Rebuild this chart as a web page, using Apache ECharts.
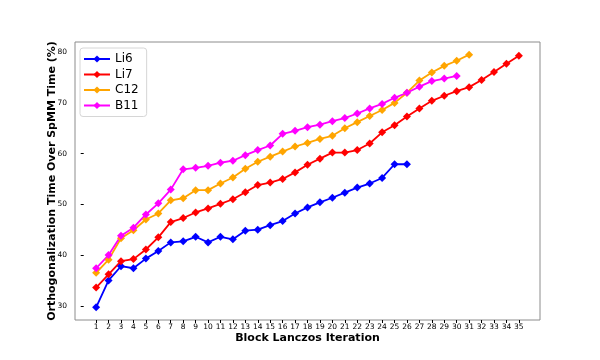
<!DOCTYPE html>
<html>
<head>
<meta charset="utf-8">
<script src="https://cdn.jsdelivr.net/npm/echarts@6/dist/echarts.min.js"></script>
<style>
html,body{margin:0;padding:0;background:#fff;}
#chart{width:600px;height:360px;}
</style>
</head>
<body>
<div id="chart"></div>
<script>
const iterations = [1,2,3,4,5,6,7,8,9,10,11,12,13,14,15,16,17,18,19,20,21,22,23,24,25,26,27,28,29,30,31,32,33,34,35];
const yTicks = [30,40,50,60,70,80];
const li6 = [29.7,35.0,37.8,37.4,39.3,40.8,42.5,42.7,43.6,42.5,43.6,43.1,44.8,45.0,45.9,46.7,48.2,49.4,50.4,51.3,52.3,53.3,54.1,55.2,57.9,57.9];
const li7 = [33.6,36.2,38.8,39.2,41.1,43.5,46.5,47.3,48.4,49.2,50.1,51.0,52.4,53.8,54.3,55.0,56.3,57.8,59.0,60.2,60.2,60.7,62.0,64.2,65.6,67.3,68.9,70.4,71.4,72.3,73.1,74.5,76.1,77.7,79.3];
const c12 = [36.5,39.1,43.3,44.9,47.0,48.2,50.8,51.2,52.8,52.8,54.1,55.3,57.0,58.4,59.4,60.4,61.4,62.1,62.9,63.5,65.0,66.2,67.4,68.6,70.0,72.0,74.4,76.0,77.3,78.3,79.5];
const b11 = [37.4,40.0,43.8,45.4,48.0,50.2,52.9,56.9,57.2,57.6,58.2,58.6,59.7,60.7,61.6,63.9,64.5,65.2,65.7,66.4,67.0,67.9,68.9,69.8,71.0,72.0,73.2,74.3,74.8,75.3];
const seriesNames = ['Li6','Li7','C12','B11'];
const seriesColors = ['#0000ff','#ff0000','#ffa500','#ff00ff'];
const seriesValues = [li6, li7, c12, b11];

const font = 'DejaVu Sans';
const chart = echarts.init(document.getElementById('chart'), null, {renderer:'canvas'});
chart.setOption({
  animation: false,
  backgroundColor: '#fff',
  grid: {left:75, right:60, top:42, bottom:40, show:true, borderColor:'#8c8c8c', borderWidth:1, backgroundColor:'transparent'},
  legend: {
    orient:'vertical', left:80, top:48,
    data: seriesNames,
    itemWidth:26, itemHeight:9, itemGap:3.5,
    padding:[5,8,5,3],
    backgroundColor:'#fff', borderColor:'#d6d6d6', borderWidth:1, borderRadius:3,
    textStyle:{fontFamily:font, fontSize:12, color:'#000'}
  },
  xAxis: {
    type:'value', min:-0.7, max:36.7,
    name:'Block Lanczos Iteration', nameLocation:'middle', nameGap:13, nameMoveOverlap:false,
    nameTextStyle:{fontFamily:font, fontSize:11, fontWeight:'bold', color:'#000'},
    axisLine:{show:false},
    axisTick:{show:true, length:3, customValues: iterations, lineStyle:{color:'#000'}},
    axisLabel:{customValues: iterations, fontFamily:font, fontSize:7.5, color:'#000', margin:3},
    splitLine:{show:false}
  },
  yAxis: {
    type:'value', min:27.2, max:82,
    name:'Orthogonalization Time Over SpMM Time (%)', nameLocation:'middle', nameGap:17, nameMoveOverlap:false,
    nameTextStyle:{fontFamily:font, fontSize:11, fontWeight:'bold', color:'#000'},
    axisLine:{show:false},
    axisTick:{show:true, length:3, customValues: yTicks, lineStyle:{color:'#000'}},
    axisLabel:{customValues: yTicks, fontFamily:font, fontSize:7.5, color:'#000', margin:8},
    splitLine:{show:false}
  },
  series: seriesNames.map((n,i)=>({
    name:n, type:'line',
    data: seriesValues[i].map((v,j)=>[iterations[j], v]),
    symbol:'diamond', symbolSize:8,
    itemStyle:{color:seriesColors[i]},
    lineStyle:{color:seriesColors[i], width:1.8}
  }))
});
</script>
</body>
</html>
